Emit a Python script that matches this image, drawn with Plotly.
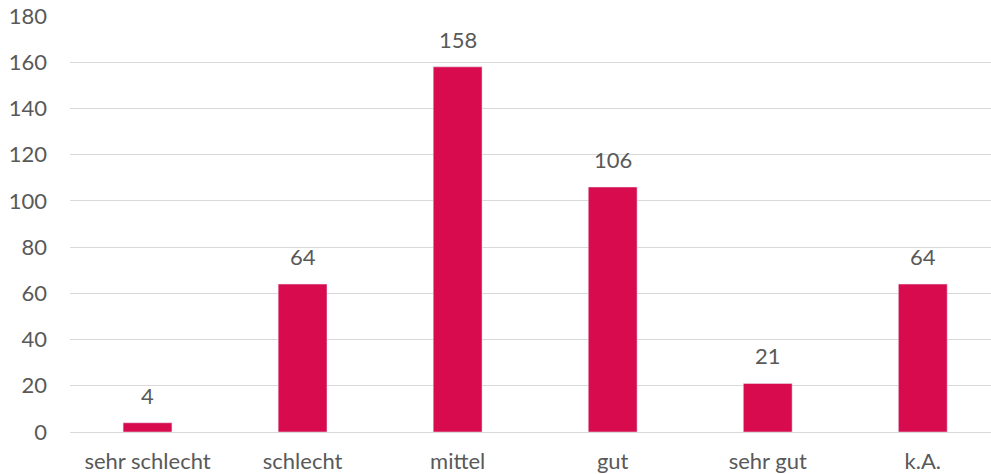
import plotly.graph_objects as go

categories = ["sehr schlecht", "schlecht", "mittel", "gut", "sehr gut", "k.A."]
counts = [4, 64, 158, 106, 21, 64]
y_ticks = list(range(0, 181, 20))

bar_color = "#D80B4F"
text_color = "#595959"
font_family = "Lato, 'Open Sans', sans-serif"
font_size = 22

fig = go.Figure()

fig.add_trace(go.Bar(
    x=categories,
    y=counts,
    marker_color=bar_color,
    width=0.315,
    hoverinfo="x+y",
))

# value labels above the bars
for cat, val in zip(categories, counts):
    fig.add_annotation(
        x=cat, y=val, text=str(val),
        showarrow=False, yanchor="bottom", yshift=12,
        font=dict(family=font_family, size=font_size, color=text_color),
    )

fig.update_layout(
    width=991,
    height=474,
    margin=dict(l=70, r=0, t=16, b=42, autoexpand=False),
    plot_bgcolor="white",
    paper_bgcolor="white",
    showlegend=False,
    font=dict(family=font_family, size=font_size, color=text_color),
    xaxis=dict(
        range=[-0.5, 5.44],
        showgrid=False,
        showline=False,
        ticks="",
        ticklabelstandoff=14,
        automargin=False,
        fixedrange=True,
    ),
    yaxis=dict(
        range=[0, 180],
        tickvals=y_ticks,
        showgrid=True,
        gridcolor="#D9D9D9",
        gridwidth=1,
        zeroline=True,
        zerolinecolor="#D9D9D9",
        zerolinewidth=1,
        showline=False,
        ticks="",
        ticklabelstandoff=22,
        automargin=False,
        fixedrange=True,
    ),
)

# drop the default page margin so the figure sits at the window corner
fig.write_html(
    "out.html",
    config={"displayModeBar": False},
    post_script="document.body.style.margin='0';document.body.style.overflow='hidden';",
)
